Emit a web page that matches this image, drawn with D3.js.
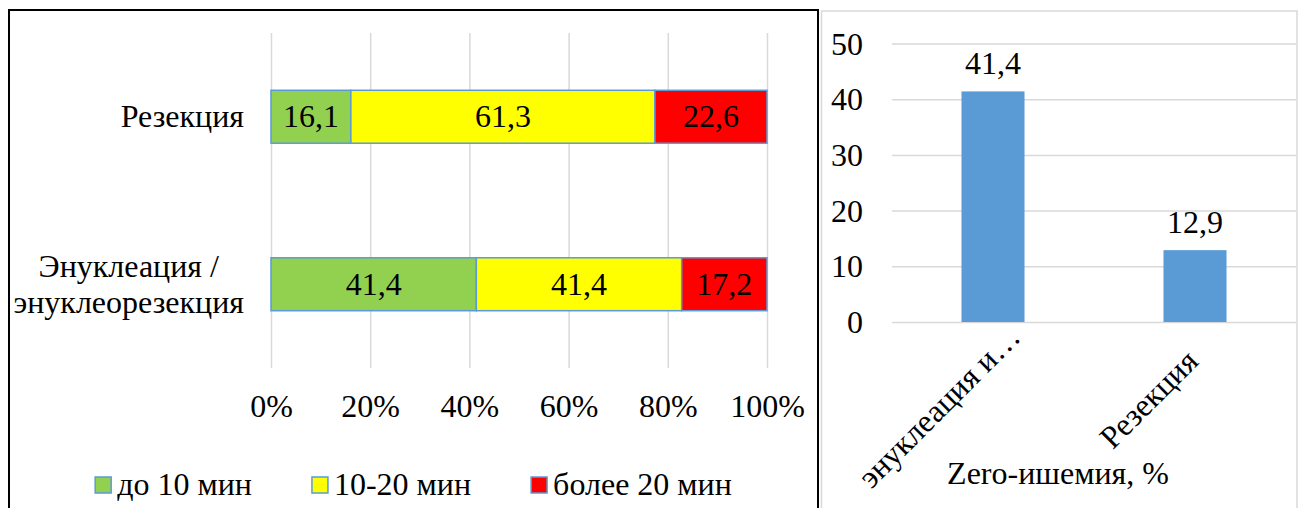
<!DOCTYPE html>
<html><head><meta charset="utf-8">
<script src="https://cdn.jsdelivr.net/npm/d3@7"></script>
<style>
body{margin:0;background:#fff}
svg{display:block}
</style>
</head><body><svg id="c" width="1302" height="508"></svg>
<script>
// ---- data ----
const categories = ["Резекция", "Энуклеация /\nэнуклеорезекция"];
const seriesNames = ["до 10 мин", "10-20 мин", "более 20 мин"];
const seriesUnder10 = [16.1, 41.4];
const series10to20 = [61.3, 41.4];
const seriesOver20 = [22.6, 17.2];
const xTickValues = [0, 20, 40, 60, 80, 100];
const zeroCategories = ["энуклеация и…", "Резекция"];
const zeroValues = [41.4, 12.9];
const yTickValues = [0, 10, 20, 30, 40, 50];
const zeroTitle = "Zero-ишемия, %";

const colors = ["#92D050", "#FFFF00", "#FF0000"];
const FS = 32;
const FONT = "'Liberation Serif', 'Times New Roman', serif";
const fmt = v => String(v).replace(".", ",");
const T = sel => sel.style("font-family", FONT).style("font-size", FS + "px").attr("fill", "#000");

const svg = d3.select("#c").style("font-family", FONT);
svg.append("rect").attr("width", 1302).attr("height", 508).attr("fill", "#fff");

// panel frames
svg.append("rect").attr("x", 9).attr("y", 10).attr("width", 809).attr("height", 520)
  .attr("fill", "none").attr("stroke", "#000").attr("stroke-width", 2);
svg.append("rect").attr("x", 821.5).attr("y", 11).attr("width", 475.5).attr("height", 520)
  .attr("fill", "none").attr("stroke", "#D9D9D9").attr("stroke-width", 1.5);

// ---- left: stacked 100% bar ----
const table = categories.map((c, i) => ({cat: c, s0: seriesUnder10[i], s1: series10to20[i], s2: seriesOver20[i]}));
const keys = ["s0", "s1", "s2"];
const stacked = d3.stack().keys(keys)(table);

const x = d3.scaleLinear().domain([0, 100]).range([271, 767]);
const y = d3.scaleBand().domain(categories).range([33, 368]).paddingInner(0.684).paddingOuter(0.342);

const L = svg.append("g");
L.append("g").attr("transform", "translate(0,368)")
  .call(d3.axisBottom(x).tickValues(xTickValues).tickSize(-335).tickFormat(d => d + "%"))
  .call(g => g.select(".domain").remove())
  .call(g => g.attr("font-family", null).attr("font-size", null))
  .call(g => g.selectAll("line").attr("stroke", "#D9D9D9").attr("stroke-width", 1.5))
  .call(g => T(g.selectAll("text")).attr("y", 38).attr("dy", "0.33em"));

stacked.forEach((s, si) => {
  const g = L.append("g");
  g.selectAll("rect").data(s).join("rect")
    .attr("x", d => x(d[0])).attr("width", d => x(d[1]) - x(d[0]))
    .attr("y", d => y(d.data.cat)).attr("height", y.bandwidth())
    .attr("fill", colors[si]).attr("stroke", "#5B9BD5").attr("stroke-width", 1.5);
  T(g.selectAll("text").data(s).join("text"))
    .attr("x", d => (x(d[0]) + x(d[1])) / 2)
    .attr("y", d => y(d.data.cat) + y.bandwidth() / 2)
    .attr("dy", "0.33em").attr("text-anchor", "middle")
    .text(d => fmt(d.data[keys[si]]));
});

// category labels (multi-line, centered block, right edge at 244)
categories.forEach(c => {
  const lines = c.split("\n");
  const t = T(L.append("text")).attr("text-anchor", "middle");
  const lh = 36;
  const cy = y(c) + y.bandwidth() / 2;
  lines.forEach((ln, k) => {
    t.append("tspan").attr("dy", k === 0 ? "0.33em" : lh).text(ln);
  });
  let w = 0;
  t.selectAll("tspan").each(function(){ w = Math.max(w, this.getComputedTextLength()); });
  t.selectAll("tspan").attr("x", 244 - w / 2);
  t.attr("y", cy - (lines.length - 1) * lh / 2);
});

// legend
const lg = L.append("g");
let lx = 0;
seriesNames.forEach((n, i) => {
  const it = lg.append("g");
  it.append("rect").attr("x", 0).attr("y", -18).attr("width", 16).attr("height", 16)
    .attr("fill", colors[i]).attr("stroke", "#5B9BD5").attr("stroke-width", 1.5);
  const tx = T(it.append("text")).attr("x", 22).attr("y", 0).text(n);
  const w = 22 + tx.node().getComputedTextLength();
  it.attr("transform", `translate(${lx},0)`);
  lx += w + 60;
});
const lw = lx - 60;
lg.attr("transform", `translate(${413.5 - lw / 2},495)`);

// ---- right: column chart ----
const x2 = d3.scaleBand().domain(zeroCategories).range([892, 1296]).paddingInner(0.688).paddingOuter(0.344);
const y2 = d3.scaleLinear().domain([0, 50]).range([322, 43.5]);
const R = svg.append("g");
R.append("g").attr("transform", "translate(892,0)")
  .call(d3.axisLeft(y2).tickValues(yTickValues).tickSize(-404).tickFormat(d3.format("d")))
  .call(g => g.select(".domain").remove())
  .call(g => g.attr("font-family", null).attr("font-size", null))
  .call(g => g.selectAll("line").attr("stroke", "#D9D9D9").attr("stroke-width", 1.5))
  .call(g => T(g.selectAll("text")).attr("x", -29).attr("dy", "0.33em"));

R.selectAll("rect.bar").data(zeroValues).join("rect").attr("class", "bar")
  .attr("x", (d, i) => x2(zeroCategories[i])).attr("width", x2.bandwidth())
  .attr("y", d => y2(d)).attr("height", d => y2(0) - y2(d)).attr("fill", "#5B9BD5");
T(R.selectAll("text.val").data(zeroValues).join("text").attr("class", "val"))
  .attr("x", (d, i) => x2(zeroCategories[i]) + x2.bandwidth() / 2)
  .attr("y", d => y2(d) - 17).attr("text-anchor", "middle").text(fmt);

// rotated category labels
const rl = T(R.selectAll("text.cat").data(zeroCategories).join("text").attr("class", "cat"))
  .attr("text-anchor", "middle").text(d => d);
let maxL = 0;
rl.each(function(){ maxL = Math.max(maxL, this.getComputedTextLength()); });
const c45 = Math.SQRT1_2;
rl.attr("transform", function(d) {
  const len = this.getComputedTextLength();
  const ex = x2(d) + x2.bandwidth() / 2 + 29;
  const ey = y2(0) + 17;
  // centre of the text along its baseline: longest label ends at (ex,ey), shorter ones shifted partly
  const shift = len / 2 + (maxL - len) * 0.38;
  return `translate(${ex - c45 * shift},${ey + c45 * shift}) rotate(-45)`;
});

T(R.append("text")).attr("x", 1058).attr("y", 484).attr("text-anchor", "middle").text(zeroTitle);
</script>
</body></html>
